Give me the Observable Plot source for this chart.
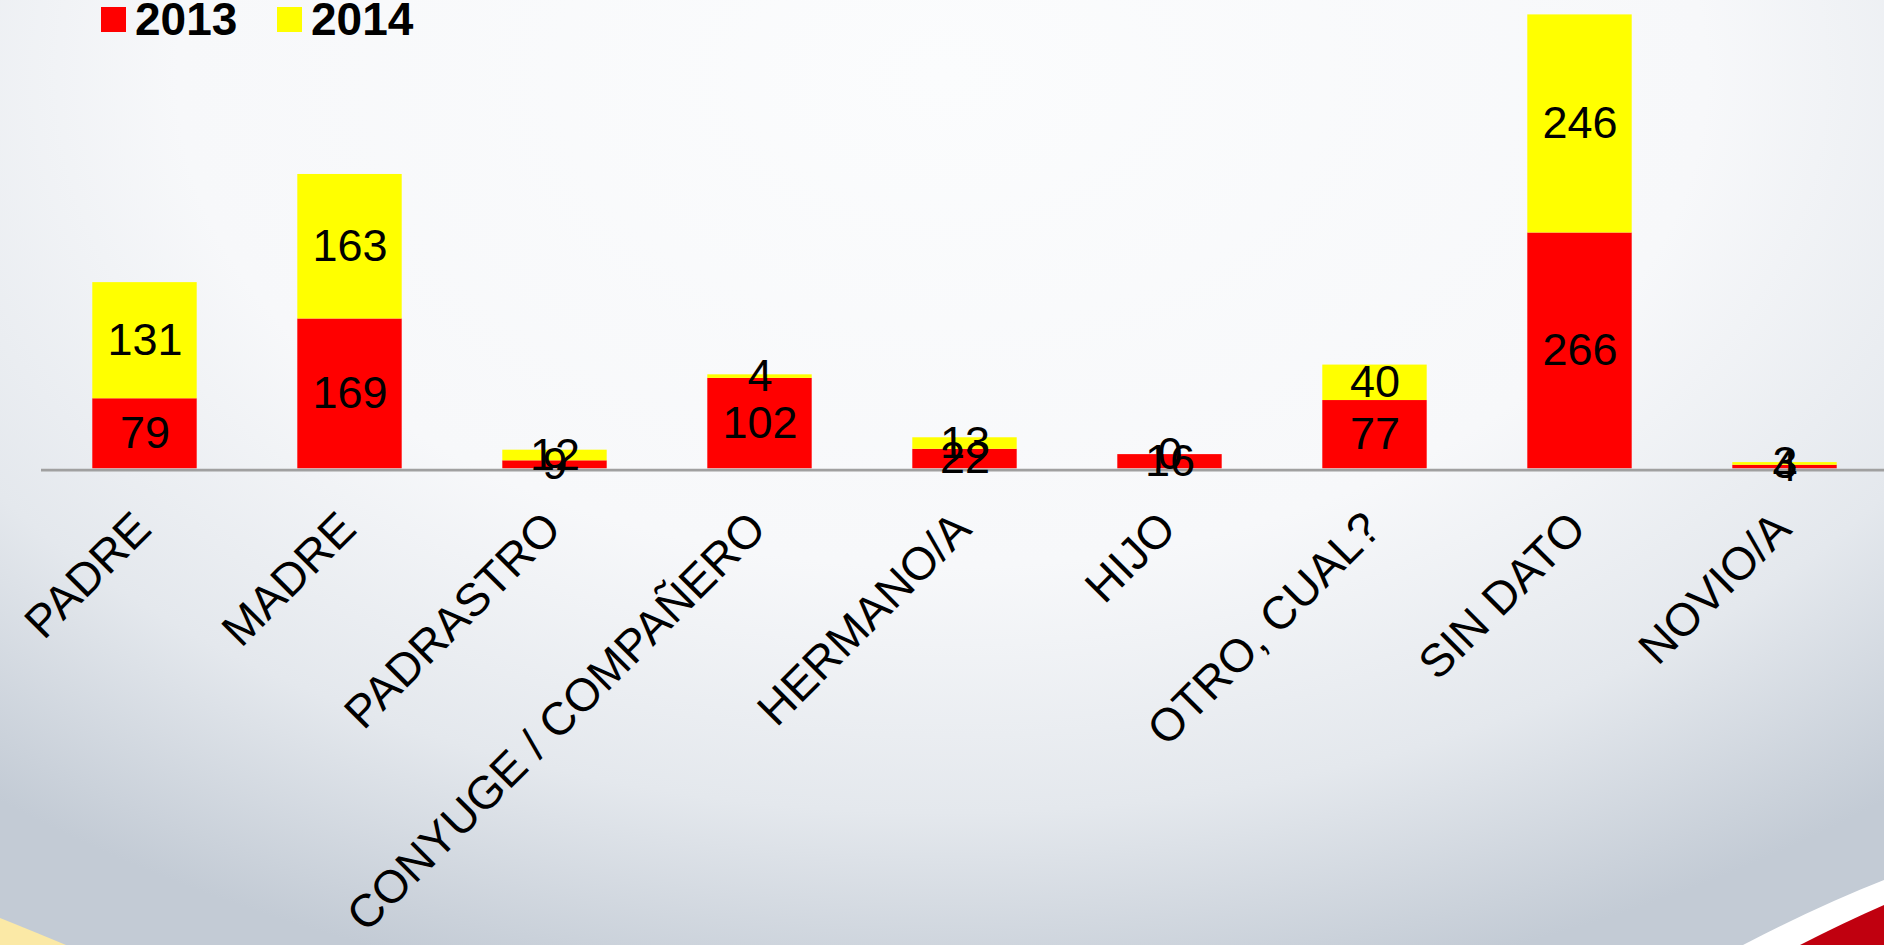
<!DOCTYPE html>
<html>
<head>
<meta charset="utf-8">
<script src="https://cdn.jsdelivr.net/npm/d3@7"></script>
<script src="https://cdn.jsdelivr.net/npm/@observablehq/plot@0.6"></script>
<style>
  html, body { margin: 0; padding: 0; }
  body {
    width: 1884px; height: 945px; overflow: hidden; position: relative;
    font-family: "Liberation Sans", Arial, sans-serif;
    background: radial-gradient(ellipse 78% 100% at 50% 8%, #fbfcfd 0%, #f7f8fa 52%, #e4e8ed 78%, #c3cbd5 100%);
  }
  #deco { position: absolute; left: 0; top: 0; }
  #chart { position: absolute; left: 0; top: 0; }
  #legend { position: absolute; left: 0; top: 0; width: 600px; height: 50px; }
  .sw { position: absolute; width: 25px; height: 25px; top: 7px; }
  .lt { position: absolute; top: 0px; font-size: 46px; line-height: 38px; font-weight: bold; color: #000; white-space: nowrap; }
</style>
</head>
<body>
<svg id="deco" width="1884" height="945">
  <path d="M0,918 Q30,930 66,945 L0,945 Z" fill="#fbe9a6"/>
  <path d="M1743,945 Q1820,905 1884,880 L1884,945 Z" fill="#ffffff"/>
  <path d="M1800,945 Q1845,922 1884,905 L1884,945 Z" fill="#c0000f"/>
</svg>
<div id="chart"></div>
<div id="legend"></div>
<script>
const categories = ["PADRE", "MADRE", "PADRASTRO", "CONYUGE / COMPAÑERO", "HERMANO/A", "HIJO", "OTRO, CUAL?", "SIN DATO", "NOVIO/A"];
const values2013 = [79, 169, 9, 102, 22, 16, 77, 266, 4];
const values2014 = [131, 163, 12, 4, 13, 0, 40, 246, 3];
const seriesNames = ["2013", "2014"];
const seriesColors = ["#ff0000", "#ffff00"];

const rows = categories.flatMap((c, i) => [
  {category: c, series: seriesNames[0], value: values2013[i]},
  {category: c, series: seriesNames[1], value: values2014[i]}
]);

const chart = Plot.plot({
  width: 1884,
  height: 945,
  marginLeft: 41,
  marginRight: 0,
  marginTop: 0,
  marginBottom: 0,
  style: {background: "transparent", fontFamily: "'Liberation Sans', Arial, sans-serif", overflow: "visible", color: "#000"},
  x: {domain: categories, range: [40, 1888.6], padding: 0, axis: null},
  y: {domain: [0, 512], range: [468.3, 14.4], axis: null},
  color: {domain: seriesNames, range: seriesColors},
  marks: [
    Plot.barY(rows, Plot.stackY({x: "category", y: "value", fill: "series", insetLeft: 50.3, insetRight: 50.3})),
    Plot.ruleY([0], {stroke: "#a0a0a0", strokeWidth: 2.6, dy: 1.3}),
    Plot.text(rows, Plot.stackY({x: "category", y: "value", text: d => String(d.value), fontSize: 45, fill: "#000"})),
    Plot.text(categories, {x: d => d, y: () => 0, text: d => d, rotate: -45, textAnchor: "end", dx: -2, dy: 52, fontSize: 46, fill: "#000"})
  ]
});
document.getElementById("chart").appendChild(chart);

const legend = document.getElementById("legend");
const legendLeft = [101, 277];
seriesNames.forEach((name, i) => {
  const sw = document.createElement("div");
  sw.className = "sw";
  sw.style.left = legendLeft[i] + "px";
  sw.style.background = seriesColors[i];
  legend.appendChild(sw);
  const t = document.createElement("div");
  t.className = "lt";
  t.style.left = (legendLeft[i] + 34) + "px";
  t.textContent = name;
  legend.appendChild(t);
});
</script>
</body>
</html>
